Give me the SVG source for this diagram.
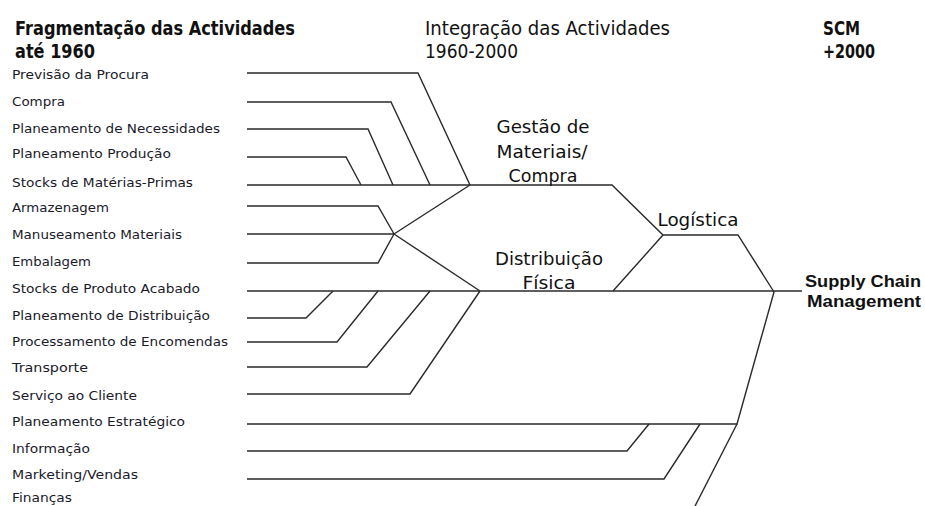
<svg xmlns="http://www.w3.org/2000/svg" width="925" height="506" viewBox="0 0 925 506">
<style>
.bg{fill:#ffffff}
.hd{font-family:"DejaVu Sans","Liberation Sans",sans-serif;font-size:19px;fill:#111}
.b{font-weight:bold}
.lb{font-family:"DejaVu Sans","Liberation Sans",sans-serif;font-size:13px;fill:#1a1a2a}
.st{font-family:"DejaVu Sans","Liberation Sans",sans-serif;font-size:17px;fill:#111}
.scm{font-family:"Liberation Sans","DejaVu Sans",sans-serif;font-size:17px;font-weight:bold;fill:#111}
.cn{fill:none;stroke:#2a2a2a;stroke-width:1.4;stroke-linejoin:miter}
</style>
<rect class="bg" x="0" y="0" width="925" height="506"/>
<g id="headers">
<text class="hd b" x="15" y="35" textLength="280" lengthAdjust="spacingAndGlyphs">Fragmentação das Actividades</text>
<text class="hd b" x="15" y="58" textLength="80" lengthAdjust="spacingAndGlyphs">até 1960</text>
<text class="hd" x="425" y="35" textLength="245" lengthAdjust="spacingAndGlyphs">Integração das Actividades</text>
<text class="hd" x="425" y="58" textLength="93" lengthAdjust="spacingAndGlyphs">1960-2000</text>
<text class="hd b" x="823" y="35" textLength="37" lengthAdjust="spacingAndGlyphs">SCM</text>
<text class="hd b" x="823" y="58" textLength="52" lengthAdjust="spacingAndGlyphs">+2000</text>
</g>
<g id="connectors">
<polyline class="cn" points="247,73 418,73 470,185"/>
<polyline class="cn" points="247,102 391,102 430,185"/>
<polyline class="cn" points="247,129 368,129 393,185"/>
<polyline class="cn" points="247,157 346,157 361,185"/>
<polyline class="cn" points="247,185 612,185 663,235 738,235 774,292"/>
<polyline class="cn" points="247,206 378,206 394,234"/>
<polyline class="cn" points="247,234 394,234"/>
<polyline class="cn" points="247,263 378,263 394,234"/>
<polyline class="cn" points="394,234 470,185"/>
<polyline class="cn" points="394,234 480,291"/>
<polyline class="cn" points="247,291 802,291"/>
<polyline class="cn" points="247,318 306,318 333,291"/>
<polyline class="cn" points="247,342 337,342 378,291"/>
<polyline class="cn" points="247,367 367,367 430,291"/>
<polyline class="cn" points="247,394 410,394 480,291"/>
<polyline class="cn" points="613,291 663,235"/>
<polyline class="cn" points="247,424 737,424 774,292"/>
<polyline class="cn" points="247,451 627,451 649,424"/>
<polyline class="cn" points="247,479 664,479 700,424"/>
<polyline class="cn" points="737,424 692,512"/>
</g>
<g id="n-previsao"><text class="lb" x="12" y="79" textLength="137" lengthAdjust="spacingAndGlyphs">Previsão da Procura</text></g>
<g id="n-compra"><text class="lb" x="12" y="106" textLength="53" lengthAdjust="spacingAndGlyphs">Compra</text></g>
<g id="n-plan-necessidades"><text class="lb" x="12" y="133" textLength="208" lengthAdjust="spacingAndGlyphs">Planeamento de Necessidades</text></g>
<g id="n-plan-producao"><text class="lb" x="12" y="158" textLength="159" lengthAdjust="spacingAndGlyphs">Planeamento Produção</text></g>
<g id="n-stocks-mp"><text class="lb" x="12" y="187" textLength="181" lengthAdjust="spacingAndGlyphs">Stocks de Matérias-Primas</text></g>
<g id="n-armazenagem"><text class="lb" x="12" y="212" textLength="97" lengthAdjust="spacingAndGlyphs">Armazenagem</text></g>
<g id="n-manuseamento"><text class="lb" x="12" y="239" textLength="170" lengthAdjust="spacingAndGlyphs">Manuseamento Materiais</text></g>
<g id="n-embalagem"><text class="lb" x="12" y="266" textLength="79" lengthAdjust="spacingAndGlyphs">Embalagem</text></g>
<g id="n-stocks-pa"><text class="lb" x="12" y="293" textLength="188" lengthAdjust="spacingAndGlyphs">Stocks de Produto Acabado</text></g>
<g id="n-plan-distribuicao"><text class="lb" x="12" y="320" textLength="198" lengthAdjust="spacingAndGlyphs">Planeamento de Distribuição</text></g>
<g id="n-processamento"><text class="lb" x="12" y="346" textLength="216" lengthAdjust="spacingAndGlyphs">Processamento de Encomendas</text></g>
<g id="n-transporte"><text class="lb" x="12" y="372" textLength="76" lengthAdjust="spacingAndGlyphs">Transporte</text></g>
<g id="n-servico"><text class="lb" x="12" y="400" textLength="125" lengthAdjust="spacingAndGlyphs">Serviço ao Cliente</text></g>
<g id="n-plan-estrategico"><text class="lb" x="12" y="426" textLength="173" lengthAdjust="spacingAndGlyphs">Planeamento Estratégico</text></g>
<g id="n-informacao"><text class="lb" x="12" y="453" textLength="78" lengthAdjust="spacingAndGlyphs">Informação</text></g>
<g id="n-marketing"><text class="lb" x="12" y="479" textLength="126" lengthAdjust="spacingAndGlyphs">Marketing/Vendas</text></g>
<g id="n-financas"><text class="lb" x="12" y="502" textLength="60" lengthAdjust="spacingAndGlyphs">Finanças</text></g>
<g id="n-gestao-materiais">
<text class="st" x="543" y="133" text-anchor="middle" textLength="93" lengthAdjust="spacingAndGlyphs">Gestão de</text>
<text class="st" x="542" y="158" text-anchor="middle" textLength="91" lengthAdjust="spacingAndGlyphs">Materiais/</text>
<text class="st" x="543" y="182" text-anchor="middle" textLength="69" lengthAdjust="spacingAndGlyphs">Compra</text>
</g>
<g id="n-distribuicao-fisica">
<text class="st" x="549" y="265" text-anchor="middle" textLength="108" lengthAdjust="spacingAndGlyphs">Distribuição</text>
<text class="st" x="549" y="289" text-anchor="middle" textLength="53" lengthAdjust="spacingAndGlyphs">Física</text>
</g>
<g id="n-logistica">
<text class="st" x="698" y="226" text-anchor="middle" textLength="81" lengthAdjust="spacingAndGlyphs">Logística</text>
</g>
<g id="n-scm">
<text class="scm" x="805" y="287" textLength="116" lengthAdjust="spacingAndGlyphs">Supply Chain</text>
<text class="scm" x="807" y="307" textLength="114" lengthAdjust="spacingAndGlyphs">Management</text>
</g>
</svg>
